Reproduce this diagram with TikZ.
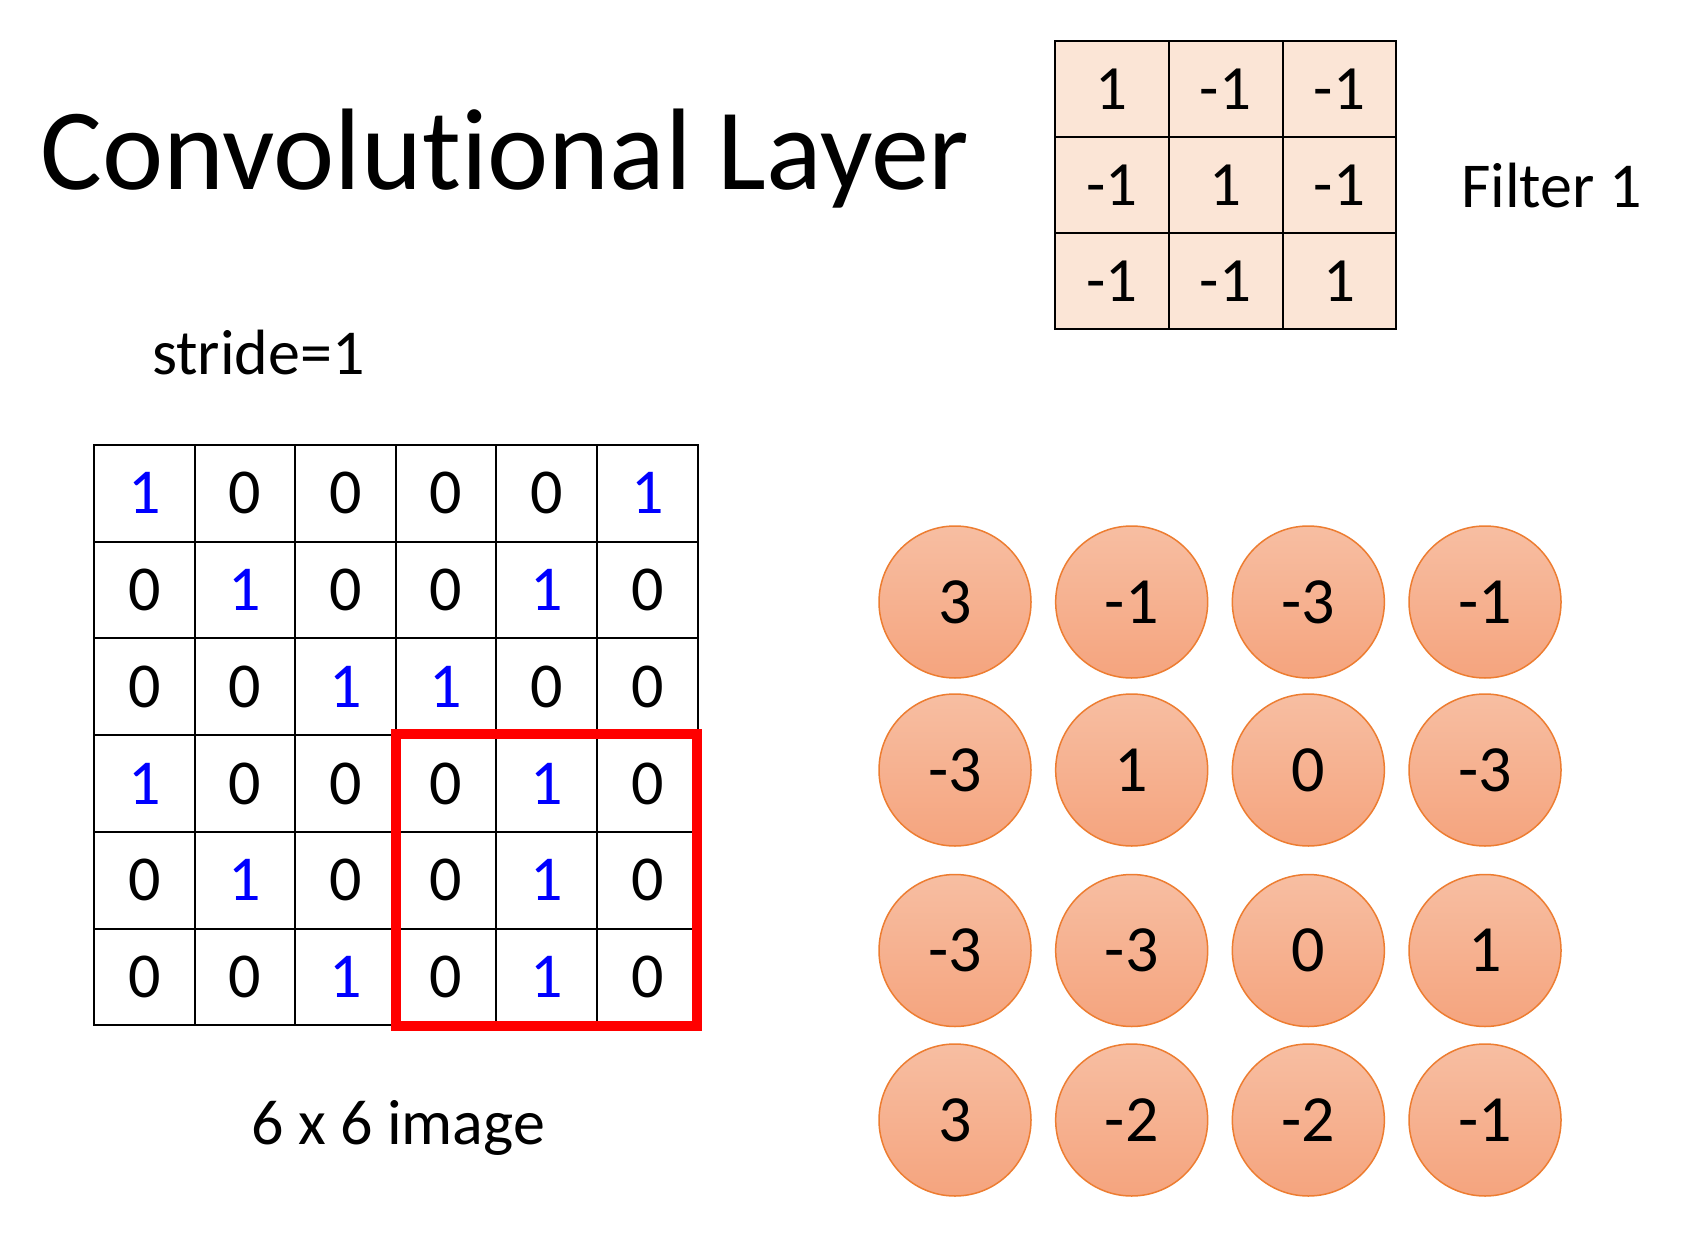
\documentclass[tikz,border=0pt]{standalone}
\usepackage{fontspec}
\setmainfont{Carlito}[Ligatures={NoCommon}]
\definecolor{peach}{HTML}{FBE5D6}
\definecolor{imgblue}{HTML}{0000FF}
\definecolor{ctop}{HTML}{F7BEA2}
\definecolor{cbot}{HTML}{F5A47E}
\definecolor{cline}{HTML}{ED7D31}
\begin{document}
\begin{tikzpicture}[x=1pt,y=-1pt,
  cellbox/.style={draw=black, line width=2pt, minimum width=100.6pt, minimum height=96.7pt, inner sep=0pt, font=\fontsize{64}{70}\selectfont},
  v1/.style={text=imgblue},
  v0/.style={text=black},
  fcell/.style={draw=black, line width=2pt, fill=peach, minimum width=113.9pt, minimum height=96.1pt, inner sep=0pt, font=\fontsize{63}{70}\selectfont},
  outc/.style={circle, draw=cline, line width=1.5pt, top color=ctop, bottom color=cbot, minimum size=152pt, inner sep=0pt, font=\fontsize{66}{72}\selectfont},
  lbl/.style={inner sep=0pt, anchor=base west, font=\fontsize{64}{70}\selectfont}]
\useasboundingbox[fill=white] (0,0) rectangle (1696,1246);
% title
\node[inner sep=0pt, anchor=base west, font=\fontsize{116}{124}\selectfont] (title) at (40,189.3) {Convolutional Layer};
% filter
\foreach \row [count=\i from 0] in {{1,-1,-1},{-1,1,-1},{-1,-1,1}} {
  \foreach \v [count=\j from 0] in \row {
    \node[fcell] (f-\i-\j) at ({1054.7+113.9*(\j+0.5)},{41+96.1*(\i+0.5)}) {\v};
  }
}
\node[lbl] (filtlbl) at (1461,207.8) {Filter 1};
\node[lbl] (stride) at (152,374.3) {stride=1};
% image grid
\foreach \row [count=\i from 0] in {{1,0,0,0,0,1},{0,1,0,0,1,0},{0,0,1,1,0,0},{1,0,0,0,1,0},{0,1,0,0,1,0},{0,0,1,0,1,0}} {
  \foreach \v [count=\j from 0] in \row {
    \node[cellbox, v\v] (g-\i-\j) at ({94+100.6*(\j+0.5)},{445+96.7*(\i+0.5)}) {\v};
  }
}
\draw[red, line width=10pt] ([xshift=1pt]g-3-3.north west) rectangle ([xshift=-1.5pt]g-5-5.south east);
\node[lbl] (imglbl) at (251,1144) {6 x 6 image};
% output circles
\foreach \row [count=\i from 0] in {{3,-1,-3,-1},{-3,1,0,-3},{-3,-3,0,1},{3,-2,-2,-1}} {
  \pgfmathsetmacro\cy{{602,770,950.5,1120}[\i]}
  \foreach \v [count=\j from 0] in \row {
    \node[outc] (o-\i-\j) at ({955+176.67*\j},\cy) {\v};
  }
}
\end{tikzpicture}
\end{document}
